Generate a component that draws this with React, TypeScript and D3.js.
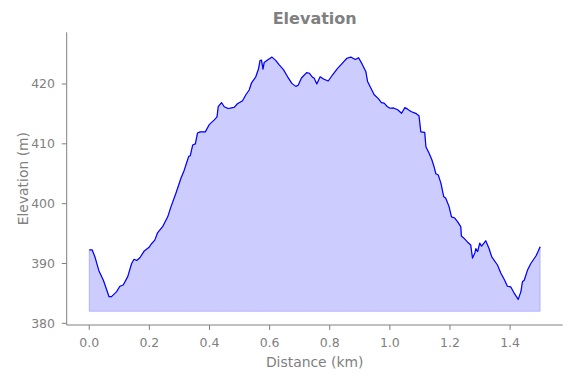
import React from "react";
import * as d3 from "d3";

const distanceKm = [0, 0.01, 0.019, 0.032, 0.047, 0.066, 0.074, 0.091, 0.102, 0.113, 0.128, 0.141, 0.149, 0.158, 0.169, 0.183, 0.199, 0.207, 0.218, 0.227, 0.244, 0.261, 0.272, 0.288, 0.305, 0.316, 0.325, 0.331, 0.336, 0.344, 0.353, 0.36, 0.369, 0.386, 0.399, 0.416, 0.425, 0.429, 0.44, 0.449, 0.462, 0.482, 0.493, 0.51, 0.521, 0.532, 0.54, 0.554, 0.563, 0.568, 0.573, 0.578, 0.582, 0.593, 0.608, 0.621, 0.632, 0.646, 0.66, 0.674, 0.687, 0.695, 0.706, 0.723, 0.732, 0.743, 0.748, 0.757, 0.768, 0.781, 0.795, 0.809, 0.826, 0.837, 0.846, 0.857, 0.87, 0.885, 0.896, 0.907, 0.92, 0.926, 0.937, 0.948, 0.961, 0.972, 0.981, 0.992, 1.001, 1.012, 1.026, 1.039, 1.05, 1.059, 1.07, 1.086, 1.097, 1.103, 1.116, 1.12, 1.131, 1.14, 1.147, 1.153, 1.161, 1.17, 1.179, 1.186, 1.197, 1.205, 1.216, 1.225, 1.236, 1.238, 1.247, 1.258, 1.269, 1.275, 1.283, 1.286, 1.292, 1.299, 1.305, 1.319, 1.33, 1.339, 1.358, 1.369, 1.382, 1.391, 1.402, 1.413, 1.427, 1.436, 1.441, 1.447, 1.458, 1.469, 1.486, 1.493, 1.5];

const elevationM = [392.26, 392.26, 391.1, 388.8, 387.2, 384.45, 384.45, 385.3, 386.2, 386.4, 387.8, 390.0, 390.7, 390.5, 391.0, 392.1, 392.7, 393.3, 393.9, 395.1, 396.15, 397.8, 399.5, 401.7, 404.25, 405.6, 407.0, 407.9, 408.0, 409.8, 410.0, 411.8, 412.0, 412.0, 413.2, 414.0, 414.5, 416.2, 416.9, 416.2, 415.9, 416.1, 416.7, 417.2, 418.2, 419.0, 420.2, 421.2, 422.5, 423.9, 424.0, 422.5, 423.6, 424.0, 424.5, 423.9, 423.2, 422.4, 421.2, 420.1, 419.6, 419.8, 421.0, 421.9, 421.8, 421.1, 421.0, 420.0, 421.2, 420.8, 420.5, 421.5, 422.6, 423.2, 423.7, 424.3, 424.5, 424.1, 424.4, 423.4, 422.1, 420.4, 419.3, 418.2, 417.6, 416.9, 416.8, 416.2, 415.95, 416.0, 415.7, 415.1, 416.05, 415.8, 415.4, 415.1, 414.7, 412.0, 411.9, 409.5, 408.4, 407.3, 406.2, 405.0, 404.8, 403.4, 401.2, 400.9, 399.5, 397.8, 397.6, 397.0, 396.15, 394.6, 394.2, 393.6, 393.1, 390.9, 391.8, 392.5, 392.0, 393.4, 392.9, 393.8, 392.5, 391.1, 389.75, 388.4, 387.2, 386.2, 386.1, 385.1, 384.0, 385.3, 386.95, 387.2, 388.9, 390.0, 391.25, 392.0, 392.8];

const fillFloor = 382;
const xTicks = [0, 0.2, 0.4, 0.6, 0.8, 1.0, 1.2, 1.4];
const yTicks = [380, 390, 400, 410, 420];

const W = 571;
const H = 378;
const left = 66.7;
const right = 562.7;
const top = 32.3;
const bottom = 325;
const gray = "#808080";
const font = "DejaVu Sans, sans-serif";

export default function App() {
  const x = d3.scaleLinear().domain([-0.075, 1.575]).range([left, right]);
  const y = d3.scaleLinear().domain([379.72, 428.64]).range([bottom, top]);
  const pts: [number, number][] = distanceKm.map((d, i) => [d, elevationM[i]]);
  const line = d3.line<[number, number]>().x((p) => x(p[0])).y((p) => y(p[1]));
  const area = d3
    .area<[number, number]>()
    .x((p) => x(p[0]))
    .y0(() => y(fillFloor))
    .y1((p) => y(p[1]));

  return (
    <svg width={W} height={H} style={{ position: "absolute", left: 0, top: 0, background: "#fff" }}>
      <path d={area(pts) || ""} fill="blue" fillOpacity={0.2} stroke="blue" strokeOpacity={0.2} strokeWidth={1} />
      <path d={line(pts) || ""} fill="none" stroke="blue" strokeWidth={1.2} strokeLinejoin="round" />
      <line x1={left} x2={left} y1={top} y2={bottom} stroke={gray} strokeWidth={1} />
      <line x1={left} x2={right} y1={bottom} y2={bottom} stroke={gray} strokeWidth={1} />
      {xTicks.map((t) => (
        <g key={"x" + t}>
          <line x1={x(t)} x2={x(t)} y1={bottom} y2={bottom + 4.9} stroke={gray} strokeWidth={1} />
          <text x={x(t)} y={346.5} fill={gray} fontSize={12.5} fontFamily={font} textAnchor="middle">
            {t.toFixed(1)}
          </text>
        </g>
      ))}
      {yTicks.map((t) => (
        <g key={"y" + t}>
          <line x1={left - 4.9} x2={left} y1={y(t)} y2={y(t)} stroke={gray} strokeWidth={1} />
          <text x={55} y={y(t) + 4.5} fill={gray} fontSize={12.5} fontFamily={font} textAnchor="end">
            {t}
          </text>
        </g>
      ))}
      <text x={(left + right) / 2} y={366.5} fill={gray} fontSize={13.9} fontFamily={font} textAnchor="middle">
        Distance (km)
      </text>
      <text
        transform={`translate(28, ${(top + bottom) / 2}) rotate(-90)`}
        fill={gray}
        fontSize={13.9}
        fontFamily={font}
        textAnchor="middle"
      >
        Elevation (m)
      </text>
      <text x={(left + right) / 2} y={24} fill={gray} fontSize={16} fontWeight="bold" fontFamily={font} textAnchor="middle">
        Elevation
      </text>
    </svg>
  );
}
